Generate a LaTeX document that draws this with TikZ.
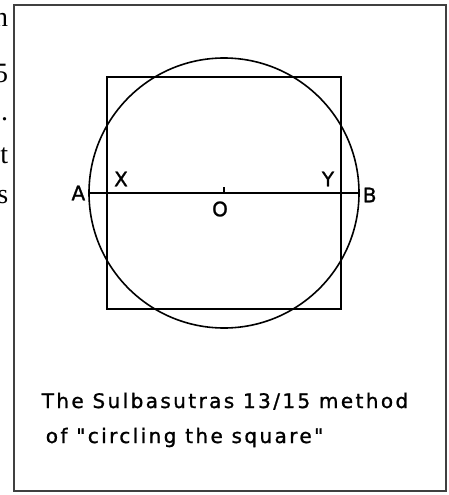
\documentclass[tikz,border=0pt]{standalone}
\usepackage{fontspec}
\setmainfont{Liberation Serif}
\newfontfamily\capfont[LetterSpace=12,FakeBold=1.2]{DejaVu Sans}
\usetikzlibrary{positioning}

\tikzset{
  lbl/.style={font=\capfont\fontsize{20}{24}\selectfont,inner sep=1pt},
  margin/.style={font=\fontsize{28}{32}\selectfont,anchor=base east,inner sep=0pt},
}

\begin{document}
\begin{tikzpicture}[x=1pt,y=-1pt,line width=1.6pt]
  \useasboundingbox (0,0) rectangle (448,495);
  % bits of the text beside the figure
  \node[margin] (m1) at (9,27) {n};
  \node[margin] (m2) at (9,82) {5};
  \node[margin] (m3) at (9,120) {.};
  \node[margin] (m4) at (9,163) {t};
  \node[margin] (m5) at (9,203) {s};
  % frame
  \draw[black!75,line width=2pt] (14,5) rectangle (446,491);
  % square and circle
  \draw (107,77) rectangle (341,309);
  \coordinate (O) at (224,193);
  \coordinate (A) at (89,193);
  \coordinate (B) at (359,193);
  \draw (O) circle[radius=135];
  \draw (A) -- (B);
  \draw (O) -- ++(0,-6);
  \node[lbl,left=2pt of A] (la) {A};
  \node[lbl,right=2pt of B,yshift=-2pt] (lb) {B};
  \node[lbl] (lx) at (121,179) {X};
  \node[lbl] (ly) at (328,179) {Y};
  \node[lbl] (lo) at (220,209) {O};
  % caption
  \node[lbl,anchor=base] (cap1) at (225,408)
    {The Sulbasutras 13/15 method};
  \node[lbl,anchor=base west] (cap2) at (44,443)
    {of "circling the square"};
\end{tikzpicture}
\end{document}
